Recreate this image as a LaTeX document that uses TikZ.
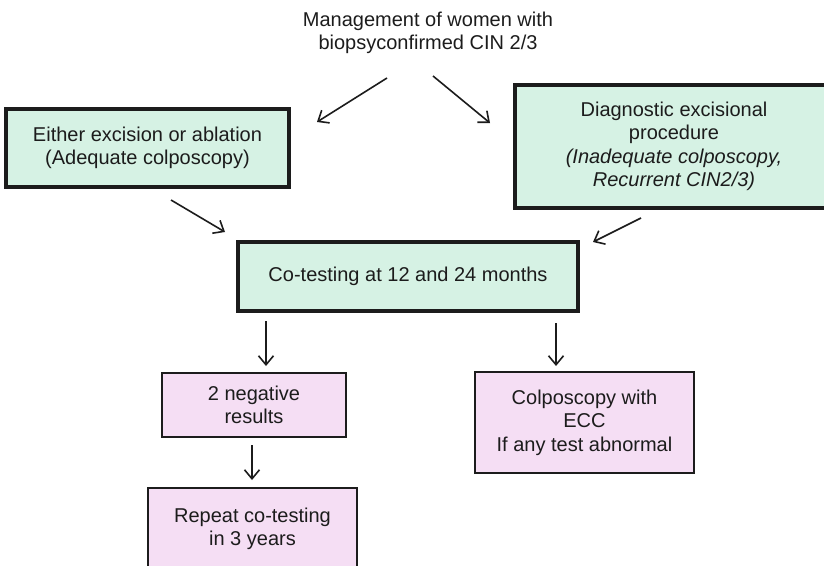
\documentclass[tikz,border=0pt]{standalone}
\usepackage{fontspec}
\setmainfont{Liberation Sans}
\usetikzlibrary{arrows.meta}
\definecolor{greenfill}{RGB}{214,242,228}
\definecolor{pinkfill}{RGB}{245,222,244}
\definecolor{darkline}{RGB}{28,28,28}

\begin{document}
\begin{tikzpicture}[x = 1pt, y = -1pt, font = \fontsize{20}{23.5}\selectfont]
	\tikzstyle{greenStyle}=[shape = rectangle, draw = darkline, line width = 3.5pt, fill = greenfill, align = center, inner sep = 0pt, text = darkline]
	\tikzstyle{pinkStyle}=[shape = rectangle, draw = darkline, line width = 2.4pt, fill = pinkfill, align = center, inner sep = 0pt, text = darkline]
	\tikzstyle{arrowStyle}=[draw = darkline, line width = 1.6pt, -{Straight Barb[length = 9pt, width = 15pt]}]
	\path[use as bounding box, clip] (0, 0) rectangle (824, 565);
	% boxes
	\node[align = center, text = darkline] (title) at (428, 33) {Management of women with\\biopsyconfirmed CIN 2/3};
	\node[greenStyle, minimum width = 283pt, minimum height = 78pt] (ablation) at (147.5, 148) {Either excision or ablation\\(Adequate colposcopy)};
	\node[greenStyle, minimum width = 318pt, minimum height = 123pt] (excision) at (674, 146.5) {Diagnostic excisional\\procedure\\\textit{(Inadequate colposcopy,}\\\textit{Recurrent CIN2/3)}};
	\node[greenStyle, minimum width = 340pt, minimum height = 69pt] (cotest) at (408, 276.5) {Co-testing at 12 and 24 months};
	\node[pinkStyle, minimum width = 184pt, minimum height = 64pt] (negative) at (254, 405) {2 negative\\results};
	\node[pinkStyle, minimum width = 219pt, minimum height = 101pt] (colpo) at (584.5, 422.5) {Colposcopy with\\ECC\\If any test abnormal};
	\node[pinkStyle, minimum width = 209pt, minimum height = 82pt] (repeat) at (252.5, 529) {Repeat co-testing\\in 3 years};
	% arrow ends
	\coordinate (t1s) at (387, 78);  \coordinate (t1e) at (317, 122);
	\coordinate (t2s) at (433, 76);  \coordinate (t2e) at (490, 123);
	\coordinate (a1s) at (171, 200); \coordinate (a1e) at (225, 232);
	\coordinate (a2s) at (641, 218); \coordinate (a2e) at (593, 242);
	\coordinate (d1s) at (266, 321); \coordinate (d1e) at (266, 366);
	\coordinate (d2s) at (556, 323); \coordinate (d2e) at (556, 366);
	\coordinate (d3s) at (252, 445); \coordinate (d3e) at (252, 480);
	\draw[arrowStyle] (t1s) -- (t1e);
	\draw[arrowStyle] (t2s) -- (t2e);
	\draw[arrowStyle] (a1s) -- (a1e);
	\draw[arrowStyle] (a2s) -- (a2e);
	\draw[arrowStyle] (d1s) -- (d1e);
	\draw[arrowStyle] (d2s) -- (d2e);
	\draw[arrowStyle] (d3s) -- (d3e);
\end{tikzpicture}
\end{document}
